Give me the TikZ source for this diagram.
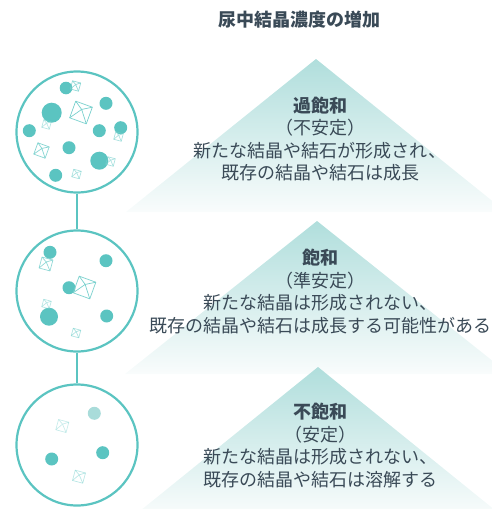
\documentclass[tikz,border=0pt]{standalone}
\usepackage{fontspec}
\setmainfont{Noto Sans CJK JP}
\usetikzlibrary{positioning}

\definecolor{stone}{HTML}{5BC4C1}
\definecolor{stonepale}{HTML}{A9DCDA}
\definecolor{facet}{HTML}{78D0CD}
\definecolor{ink}{HTML}{3A4A57}
\definecolor{tritop}{HTML}{B0DEDC}
\definecolor{tribottom}{HTML}{F9FCFC}

% crystal: x, y, half diagonal, angle, opacity
\newcommand{\crystal}[5]{%
	\begin{scope}[shift={(#1,#2)}, rotate=#4, opacity=#5]
		\draw[facet line] (#3,0) -- (0,#3) -- (-#3,0) -- (0,-#3) -- cycle;
		\draw[facet line] (0.15*#3,-0.2*#3) -- (#3,0)
			(0.15*#3,-0.2*#3) -- (0,#3)
			(0.15*#3,-0.2*#3) -- (-#3,0)
			(0.15*#3,-0.2*#3) -- (0,-#3);
	\end{scope}%
}

\begin{document}
\begin{tikzpicture}[x=1pt, y=-1pt]
	\tikzstyle{vessel} = [
		circle, draw=stone, line width=2.2pt, minimum size=121pt, inner sep=0pt
	]
	\tikzstyle{link} = [
		draw=stone, line width=2.2pt
	]
	\tikzstyle{facet line} = [
		draw=facet, line width=0.7pt, line join=round
	]
	\tikzstyle{dot} = [
		fill=stone
	]
	\tikzstyle{level} = [
		top color=tritop, bottom color=tribottom, draw=none
	]
	\tikzstyle{caption} = [
		text=ink, align=center, font=\fontsize{18}{22.5}\selectfont
	]

	\useasboundingbox (0,0) rectangle (492,509);

	% Triangles
	\begin{scope}
		\clip (0,0) rectangle (492,509);
		\shade[level] (316,59) -- (506,212) -- (126,212) -- cycle;
		\shade[level] (317,221) -- (509,374) -- (125,374) -- cycle;
		\shade[level] (318,367) -- (501,515) -- (135,515) -- cycle;
	\end{scope}

	% Title
	\node (title) [text=ink, font=\bfseries\fontsize{18}{20}\selectfont] at (299,20) {尿中結晶濃度の増加};

	% Captions
	\node (super) [caption] at (320,139) {\textbf{過飽和}\\（不安定）\\新たな結晶や結石が形成され、\\既存の結晶や結石は成長};
	\node (meta) [caption] at (320,291.5) {\textbf{飽和}\\（準安定）\\新たな結晶は形成されない、\\既存の結晶や結石は成長する可能性がある};
	\node (under) [caption] at (320,445.5) {\textbf{不飽和}\\（安定）\\新たな結晶は形成されない、\\既存の結晶や結石は溶解する};

	% Vessels
	\node (high) [vessel] at (77,132) {};
	\node (mid) [vessel] at (77,291) {};
	\node (low) [vessel] at (77,445) {};

	\draw[link] (high) -- (mid);
	\draw[link] (mid) -- (low);

	% Dots
	\foreach \x/\y/\r in {66/88/6.3, 51.7/112.7/10, 106/103.3/6.5, 29.3/130.7/6.5,
		99.3/130.7/6.5, 120.7/127.7/6.5, 69/147.7/6.5, 99.3/160.7/9, 55.7/175.3/6.5}
		\fill[dot] (\x,\y) circle (\r);
	\foreach \x/\y/\r in {50/252.3/6.5, 106/260.7/6.5, 69/287.7/6.5, 49/316.7/9, 106.7/316/6.5}
		\fill[dot] (\x,\y) circle (\r);
	\fill[stonepale] (94.3,413.3) circle (6.5);
	\foreach \x/\y/\r in {51.7/459/6.5, 102.7/452.7/6.5}
		\fill[dot] (\x,\y) circle (\r);

	% Crystals
	\crystal{75.5}{86}{6}{30}{0.8}
	\crystal{81}{112.5}{12.5}{25}{1}
	\crystal{46.5}{124.5}{5.5}{30}{0.5}
	\crystal{41.5}{150.5}{8.5}{25}{0.9}
	\crystal{118.5}{136.5}{5.5}{30}{0.6}
	\crystal{110.5}{161.5}{5.5}{30}{0.6}
	\crystal{76.5}{174}{5.5}{30}{0.6}

	\crystal{46}{264}{8}{30}{0.8}
	\crystal{84.5}{287.5}{12.5}{25}{1}
	\crystal{46.5}{304}{5.5}{30}{0.5}
	\crystal{76}{333}{5.5}{30}{0.6}

	\crystal{62.3}{426}{7.5}{30}{0.4}
	\crystal{79}{476.7}{7.5}{30}{0.5}
\end{tikzpicture}
\end{document}
